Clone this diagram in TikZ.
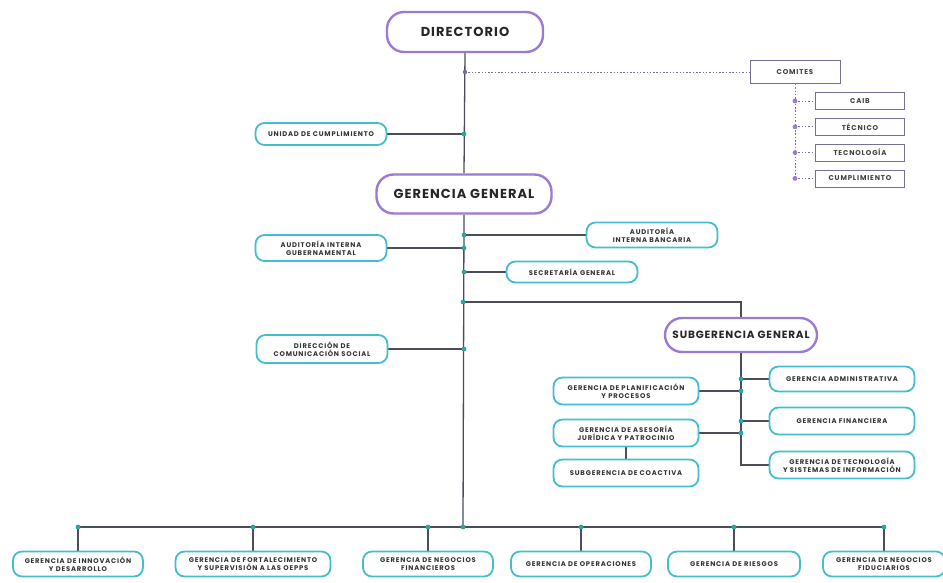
\documentclass[tikz,border=0pt]{standalone}
\usepackage{fontspec}
\setmainfont{Poppins}
\newfontfamily\espaciada[LetterSpace=12]{Poppins}
\newfontfamily\titular[LetterSpace=8]{Poppins}
\usepackage{tikz}
\usetikzlibrary{shapes,arrows,positioning,fit,backgrounds}
\definecolor{lila}{RGB}{155, 122, 212}
\definecolor{celeste}{RGB}{66, 190, 206}
\definecolor{gris}{RGB}{74, 78, 88}
\definecolor{verde}{RGB}{40, 168, 160}
\definecolor{comgris}{RGB}{120, 110, 150}
\tikzstyle{jefe} = [rectangle, rounded corners=17pt, draw=lila, line width=2.4pt, fill=white, text=black!85, font=\titular\bfseries\fontsize{13}{15}\selectfont, minimum width=156pt, minimum height=40pt]
\tikzstyle{unidad} = [rectangle, rounded corners=9pt, draw=celeste, line width=1.8pt, fill=white, text=black!80, align=center, font=\espaciada\bfseries\fontsize{6.8}{8.4}\selectfont, minimum width=131pt, minimum height=25pt, inner sep=1pt]
\tikzstyle{comite} = [rectangle, draw=comgris, line width=0.8pt, fill=white, text=black!75, font=\espaciada\bfseries\fontsize{7}{8}\selectfont, minimum width=89pt, minimum height=17pt]
\tikzstyle{linea} = [draw=gris, line width=1.3pt]
\tikzstyle{punteado} = [draw=comgris, line width=1pt, dash pattern=on 1.5pt off 1.8pt]

\begin{document}
\begin{tikzpicture}[x=1pt, y=-1pt]
\useasboundingbox (0,0) rectangle (943,582);

% jefaturas =============================
\node[jefe] (dir) at (465,32) {DIRECTORIO};
\node[jefe, minimum width=175pt, minimum height=39pt] (gg) at (464,194) {GERENCIA GENERAL};
\node[jefe, minimum width=152pt, minimum height=34pt, font=\titular\bfseries\fontsize{10.5}{12}\selectfont] (sub) at (741,335) {SUBGERENCIA GENERAL};

% comites
\node[comite, minimum width=90pt, minimum height=23pt] (comites) at (795,72) {COMITES};
\node[comite] (caib) at (860,101) {CAIB};
\node[comite, below=8pt of caib] (tecnico) {TÉCNICO};
\node[comite, below=8pt of tecnico] (tecnologia) {TECNOLOGÍA};
\node[comite, below=8pt of tecnologia] (cump) {CUMPLIMIENTO};

% staff de gerencia general
\node[unidad, minimum height=22pt] (unidad) at (321,134) {UNIDAD DE CUMPLIMIENTO};
\node[unidad, minimum height=26pt] (audgub) at (321,248) {AUDITORÍA INTERNA\\GUBERNAMENTAL};
\node[unidad, minimum height=25pt] (audban) at (652,235) {AUDITORÍA\\INTERNA BANCARIA};
\node[unidad, minimum height=21pt] (secre) at (572,272) {SECRETARÍA GENERAL};
\node[unidad, minimum height=28pt] (comu) at (322,349) {DIRECCIÓN DE\\COMUNICACIÓN SOCIAL};

% subgerencia
\node[unidad, minimum width=145pt] (admin) at (842,379) {GERENCIA ADMINISTRATIVA};
\node[unidad, minimum width=145pt, minimum height=27pt] (plani) at (626,391) {GERENCIA DE PLANIFICACIÓN\\Y PROCESOS};
\node[unidad, minimum width=145pt, minimum height=27pt] (finan) at (842,421) {GERENCIA FINANCIERA};
\node[unidad, minimum width=145pt, minimum height=27pt] (ases) at (626,433) {GERENCIA DE ASESORÍA\\JURÍDICA Y PATROCINIO};
\node[unidad, minimum width=145pt, minimum height=27pt] (coac) at (626,473) {SUBGERENCIA DE COACTIVA};
\node[unidad, minimum width=145pt, minimum height=27pt] (tecno) at (842,465) {GERENCIA DE TECNOLOGÍA\\Y SISTEMAS DE INFORMACIÓN};

% gerencias de linea
\node[unidad, minimum width=130pt] (inno) at (78,564) {GERENCIA DE INNOVACIÓN\\Y DESARROLLO};
\node[unidad, minimum width=155pt] (forta) at (253,564) {GERENCIA DE FORTALECIMIENTO\\Y SUPERVISIÓN A LAS OEPPS};
\node[unidad, minimum width=130pt] (negfin) at (428,564) {GERENCIA DE NEGOCIOS\\FINANCIEROS};
\node[unidad, minimum width=140pt] (opera) at (581,564) {GERENCIA DE OPERACIONES};
\node[unidad, minimum width=132pt] (ries) at (734,564) {GERENCIA DE RIESGOS};
\node[unidad, minimum width=122pt] (fidu) at (884,564) {GERENCIA DE NEGOCIOS\\FIDUCIARIOS};

\coordinate (bus) at (463,527);
\coordinate (ramal) at (463,302);

%edges
\begin{scope}[on background layer]
\path[linea] (dir.south) -- (gg.north);
\path[linea] (gg.south) -- (bus);
\path[punteado] (comites.west -| dir.south) -- (comites.west);
\path[punteado] (comites.south) -- (comites.south |- cump.west);
\path[punteado] (comites.south |- caib.west) -- (caib.west);
\path[punteado] (comites.south |- tecnico.west) -- (tecnico.west);
\path[punteado] (comites.south |- tecnologia.west) -- (tecnologia.west);
\path[punteado] (comites.south |- cump.west) -- (cump.west);

\path[linea] (unidad.east) -- (unidad.east -| dir.south);
\path[linea] (audgub.east) -- (audgub.east -| gg.south);
\path[linea] (audban.west) -- (audban.west -| gg.south);
\path[linea] (secre.west) -- (secre.west -| gg.south);
\path[linea] (comu.east) -- (comu.east -| gg.south);
\path[linea] (ramal) -| (sub.north);

\path[linea] (sub.south) |- (tecno.west);
\path[linea] (admin.west) -- (admin.west -| sub.south);
\path[linea] (plani.east) -- (plani.east -| sub.south);
\path[linea] (finan.west) -- (finan.west -| sub.south);
\path[linea] (ases.east) -- (ases.east -| sub.south);
\path[linea] (ases.south) -- (coac.north);

\path[linea] (inno.north |- bus) -- (fidu.north |- bus);
\path[linea] (inno.north) -- (inno.north |- bus);
\path[linea] (forta.north) -- (forta.north |- bus);
\path[linea] (negfin.north) -- (negfin.north |- bus);
\path[linea] (opera.north) -- (opera.north |- bus);
\path[linea] (ries.north) -- (ries.north |- bus);
\path[linea] (fidu.north) -- (fidu.north |- bus);
\end{scope}

% puntos
\fill[comgris] (comites.west -| dir.south) circle (2.2pt);
\foreach \c in {caib, tecnico, tecnologia, cump}
  \fill[lila] (comites.south |- \c.west) circle (2.4pt);
\foreach \c in {unidad, audgub, audban, secre, comu}
  \fill[verde] (\c.east -| gg.south) circle (2.4pt);
\fill[verde] (ramal) circle (2.4pt);
\foreach \c in {admin, plani, finan, ases}
  \fill[verde] (\c.east -| sub.south) circle (2.4pt);
\foreach \c in {inno, forta, negfin, opera, ries, fidu}
  \fill[verde] (\c.north |- bus) circle (2.4pt);
\fill[verde] (bus) circle (2.4pt);

\end{tikzpicture}
\end{document}
